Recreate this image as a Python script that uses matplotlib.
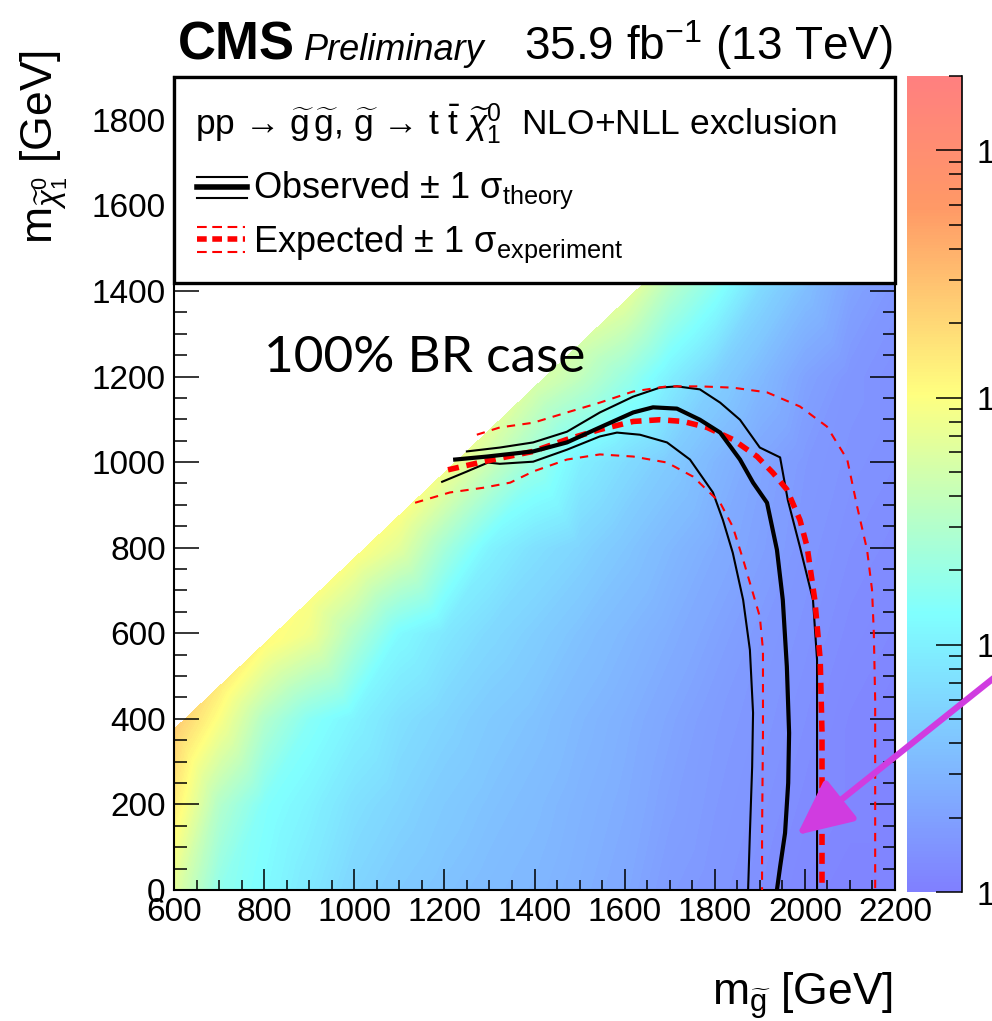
import math
import matplotlib
matplotlib.use('Agg')
import matplotlib.pyplot as plt
import matplotlib.tri as mtri
import numpy as np
from matplotlib import font_manager
from matplotlib.cm import ScalarMappable
from matplotlib.colors import LinearSegmentedColormap, LogNorm
from matplotlib.lines import Line2D
from matplotlib.patches import Rectangle, FancyArrowPatch
from matplotlib.ticker import MultipleLocator, LogLocator, FuncFormatter, NullFormatter

W, H = 992, 1021

# --- heat map: 95% CL upper limit on cross section [pb] ---
MGL = [600, 700, 800, 900, 1000, 1100, 1200, 1300, 1400, 1500,
       1600, 1700, 1800, 1900, 2000, 2100, 2200]
MCHI_ROWS = [0, 200, 400, 600, 800, 1000, 1200, 1400, 1600, 1800]
N = None
LIMIT_ROWS = [
    [0.0654, 0.0180, 0.0123, 0.0084, 0.0057, 0.0046, 0.0039, 0.0034, 0.0031,
     0.0027, 0.0023, 0.0018, 0.0016, 0.0014, 0.0012, 0.0011, 0.0011],
    [0.1400, 0.0306, 0.0143, 0.0105, 0.0072, 0.0057, 0.0046, 0.0039, 0.0034,
     0.0029, 0.0025, 0.0020, 0.0017, 0.0015, 0.0013, 0.0012, 0.0011],
    [N, 0.0957, 0.0306, 0.0154, 0.0105, 0.0072, 0.0057, 0.0046, 0.0039,
     0.0032, 0.0027, 0.0022, 0.0018, 0.0016, 0.0014, 0.0012, 0.0011],
    [N, N, N, 0.0822, 0.0306, 0.0123, 0.0084, 0.0062, 0.0050,
     0.0039, 0.0032, 0.0026, 0.0021, 0.0017, 0.0015, 0.0013, 0.0012],
    [N, N, N, N, N, 0.0654, 0.0243, 0.0105, 0.0072,
     0.0057, 0.0042, 0.0032, 0.0025, 0.0020, 0.0016, 0.0014, 0.0013],
    [N, N, N, N, N, N, N, 0.0447, 0.0209,
     0.0098, 0.0066, 0.0046, 0.0031, 0.0022, 0.0017, 0.0015, 0.0014],
    [N, N, N, N, N, N, N, N, N,
     0.0384, 0.0209, 0.0098, 0.0053, 0.0033, 0.0021, 0.0016, 0.0014],
    [N, N, N, N, N, N, N, N, N,
     N, N, 0.0306, 0.0154, 0.0062, 0.0036, 0.0021, 0.0016],
    [N, N, N, N, N, N, N, N, N,
     N, N, N, N, 0.0300, 0.0090, 0.0040, 0.0025],
    [N, N, N, N, N, N, N, N, N,
     N, N, N, N, N, N, 0.0150, 0.0050],
]
DIAG_OFFSET = 225  # grid edge: m_chi = m_gluino - 225
LIMIT_DIAG = [0.238, 0.1400, 0.1100, 0.0957, 0.0957, 0.0957, 0.0822, 0.0654, 0.0521,
              0.0521, 0.0654, 0.0521, 0.0400, 0.0350, 0.0300, 0.0300, 0.0300]
Z_MIN, Z_MAX = 1e-3, 2.0

# --- exclusion contours (m_gluino, m_chi) ---
OBS_X = [1224, 1295, 1397, 1472, 1545, 1619, 1663, 1716, 1767, 1812, 1856, 1885,
         1916, 1938, 1951, 1960, 1965, 1963, 1956, 1945, 1938]
OBS_Y = [1006, 1013, 1025, 1046, 1081, 1116, 1128, 1125, 1099, 1069, 1006, 952,
         905, 795, 678, 522, 367, 250, 133, 54, 0]
OBS_UP_X = [1250, 1323, 1397, 1472, 1545, 1619, 1678, 1716, 1767, 1812, 1856, 1900,
            1945, 1962, 1989, 2018, 2027, 2027, 2027, 2027]
OBS_UP_Y = [1025, 1034, 1046, 1071, 1116, 1153, 1174, 1177, 1170, 1139, 1099, 1034,
            1011, 912, 802, 678, 538, 367, 133, 0]
OBS_DN_X = [1195, 1250, 1297, 1323, 1397, 1472, 1545, 1583, 1634, 1694, 1745, 1796,
            1818, 1840, 1863, 1878, 1885, 1883, 1878, 1874]
OBS_DN_Y = [954, 978, 999, 996, 1001, 1029, 1060, 1069, 1064, 1046, 1006, 929,
            865, 788, 678, 561, 414, 288, 133, 0]
EXP_X = [1208, 1286, 1397, 1472, 1545, 1619, 1678, 1730, 1783, 1840, 1894, 1929,
         1960, 1989, 2005, 2022, 2034, 2038, 2038, 2038]
EXP_Y = [982, 1001, 1025, 1053, 1076, 1095, 1099, 1095, 1081, 1053, 1013, 975,
         936, 865, 802, 678, 538, 367, 133, 0]
EXP_DN_X = [1272, 1323, 1397, 1472, 1545, 1619, 1694, 1767, 1840, 1916, 1989, 2049,
            2094, 2116, 2138, 2149, 2153, 2156, 2156, 2156]
EXP_DN_Y = [1064, 1081, 1092, 1116, 1139, 1165, 1177, 1177, 1174, 1163, 1130, 1083,
            1006, 896, 795, 702, 601, 444, 211, 0]
EXP_UP_X = [1135, 1212, 1286, 1346, 1397, 1472, 1545, 1619, 1694, 1752, 1812, 1840,
            1863, 1878, 1900, 1907, 1907, 1905, 1905]
EXP_UP_Y = [905, 929, 940, 952, 978, 1006, 1018, 1013, 999, 966, 905, 849,
            772, 718, 639, 561, 367, 133, 0]

# --- fonts ---
plt.rcParams['font.family'] = ['Liberation Sans', 'DejaVu Sans']
plt.rcParams['mathtext.fontset'] = 'custom'
plt.rcParams['mathtext.rm'] = 'Liberation Sans'
plt.rcParams['mathtext.it'] = 'Liberation Sans:italic'
plt.rcParams['mathtext.bf'] = 'Liberation Sans:bold'
names = {f.name for f in font_manager.fontManager.ttflist}
LIGHT = 'Lato' if 'Lato' in names else 'DejaVu Sans'

# ROOT-style CMS SUSY palette
STOPS = [0.00, 0.34, 0.61, 0.84, 1.00]
RED = [0.50, 0.50, 1.00, 1.00, 1.00]
GREEN = [0.50, 1.00, 1.00, 0.60, 0.50]
BLUE = [1.00, 1.00, 0.50, 0.40, 0.50]
cmap = LinearSegmentedColormap.from_list('cms', list(zip(STOPS, zip(RED, GREEN, BLUE))))
norm = LogNorm(vmin=Z_MIN, vmax=Z_MAX)

fig = plt.figure(figsize=(W / 100, H / 100), dpi=100)


def fx(px):
    return px / W


def fy(py):
    return 1 - py / H


def ftext(x, y, s, **kw):
    return fig.text(fx(x), fy(y), s, **kw)


ax = fig.add_axes([fx(174), fy(890), (895 - 174) / W, (890 - 77) / H])

# heat map points
px, py, pz = [], [], []
for mchi, row in zip(MCHI_ROWS, LIMIT_ROWS):
    for mgl, z in zip(MGL, row):
        if z is not None:
            px.append(mgl)
            py.append(mchi)
            pz.append(z)
for mgl, z in zip(MGL, LIMIT_DIAG):
    px.append(mgl)
    py.append(mgl - DIAG_OFFSET)
    pz.append(z)
tri = mtri.Triangulation(px, py)
levels = np.linspace(math.log10(Z_MIN), math.log10(Z_MAX), 160)
ax.tricontourf(tri, np.log10(pz), levels=levels, cmap=cmap, extend='both', zorder=1)

# contours
ax.plot(OBS_UP_X, OBS_UP_Y, color='black', lw=1.5, zorder=3)
ax.plot(OBS_DN_X, OBS_DN_Y, color='black', lw=1.5, zorder=3)
ax.plot(EXP_UP_X, EXP_UP_Y, color='red', lw=1.5, dashes=(4, 3.5), zorder=3)
ax.plot(EXP_DN_X, EXP_DN_Y, color='red', lw=1.5, dashes=(4, 3.5), zorder=3)
ax.plot(EXP_X, EXP_Y, color='red', lw=4, dashes=(2, 1.4), zorder=3)
ax.plot(OBS_X, OBS_Y, color='black', lw=3, zorder=4)

ax.set_xlim(600, 2200)
ax.set_ylim(0, 1900)
ax.set_facecolor('white')
for sp in ax.spines.values():
    sp.set_linewidth(1.5)
ax.xaxis.set_major_locator(MultipleLocator(200))
ax.xaxis.set_minor_locator(MultipleLocator(50))
ax.yaxis.set_major_locator(MultipleLocator(200))
ax.yaxis.set_minor_locator(MultipleLocator(50))
ax.tick_params(which='both', direction='in', top=True, right=True, width=1.1, color='black')
ax.tick_params(axis='y', which='major', length=18, pad=6, labelsize=24)
ax.tick_params(axis='y', which='minor', length=9)
ax.tick_params(axis='x', which='major', length=15, pad=5, labelsize=24)
ax.tick_params(axis='x', which='minor', length=7.5)

# legend box
y0 = (890 - 283) / (890 - 77)
ax.add_patch(Rectangle((0, y0), 1, 1 - y0, transform=ax.transAxes, facecolor='white',
                       edgecolor='black', lw=2.4, zorder=10, clip_on=False))
ftext(195, 134, 'pp → ' r'$\widetilde{\mathrm{g}}\,\widetilde{\mathrm{g}}$, '
      r'$\widetilde{\mathrm{g}}$ → t $\bar{\mathrm{t}}$ $\widetilde{\chi}^{0}_{1}$'
      '  NLO+NLL exclusion', fontsize=25.5, va='baseline')
ftext(253, 198, r'Observed $\pm$ 1 $\mathrm{σ}_{\mathrm{theory}}$', fontsize=26, va='baseline')
ftext(253, 252, r'Expected $\pm$ 1 $\mathrm{σ}_{\mathrm{experiment}}$', fontsize=26, va='baseline')
for yy, lw in [(177, 1.5), (187, 4), (198, 1.5)]:
    fig.add_artist(Line2D([fx(197), fx(247)], [fy(yy), fy(yy)], color='black', lw=lw))
for yy, lw in [(227, 1.5), (239, 4), (252, 1.5)]:
    fig.add_artist(Line2D([fx(197), fx(245)], [fy(yy), fy(yy)], color='red', lw=lw,
                          dashes=(7.0 / lw, 4.0 / lw)))

# colorbar
cax = fig.add_axes([fx(907), fy(892), 55 / W, (892 - 76) / H])
cbar = fig.colorbar(ScalarMappable(norm=norm, cmap=cmap), cax=cax)
cbar.outline.set_visible(False)
cax.yaxis.set_ticks_position('right')
cax.yaxis.set_major_locator(LogLocator(base=10, numticks=10))
cax.yaxis.set_minor_locator(LogLocator(base=10, subs=range(2, 10), numticks=20))
cax.yaxis.set_minor_formatter(NullFormatter())
cax.yaxis.set_major_formatter(FuncFormatter(lambda v, p: r'10$^{%d}$' % round(math.log10(v))))
cax.tick_params(which='both', direction='in', left=False, right=True, width=1.1, color='black')
cax.tick_params(which='major', length=19, pad=10, labelsize=24)
cax.tick_params(which='minor', length=9.5)
cax.plot([1, 1], [0, 1], transform=cax.transAxes, color='black', lw=1.2, clip_on=False)

# titles and axis labels
ftext(178, 60, 'CMS', fontsize=38, fontweight='bold', va='baseline')
ftext(304, 60, 'Preliminary', fontsize=26, fontstyle='italic', va='baseline')
ftext(893, 60, r'35.9 fb$^{-1}$ (13 TeV)', fontsize=33, ha='right', va='baseline')
ftext(893, 1005, r'm$_{\widetilde{\mathrm{g}}}$ [GeV]', fontsize=32, ha='right', va='baseline')
ftext(18, 50, r'm$_{\widetilde{\chi}^{0}_{1}}$ [GeV]', fontsize=32, rotation=90,
      ha='left', va='top')
ftext(264, 372, '100% BR case', fontsize=37, fontfamily=LIGHT, fontweight='normal',
      color='black', va='baseline')

# magenta arrow
arrow = FancyArrowPatch((fx(1000), fy(673)), (fx(797), fy(835)), transform=fig.transFigure,
                        arrowstyle='-|>,head_length=1.7,head_width=0.8', mutation_scale=20,
                        color='#d03ce0', lw=4.5, shrinkA=0, shrinkB=0)
fig.add_artist(arrow)

fig.savefig('out.png', dpi=100)
